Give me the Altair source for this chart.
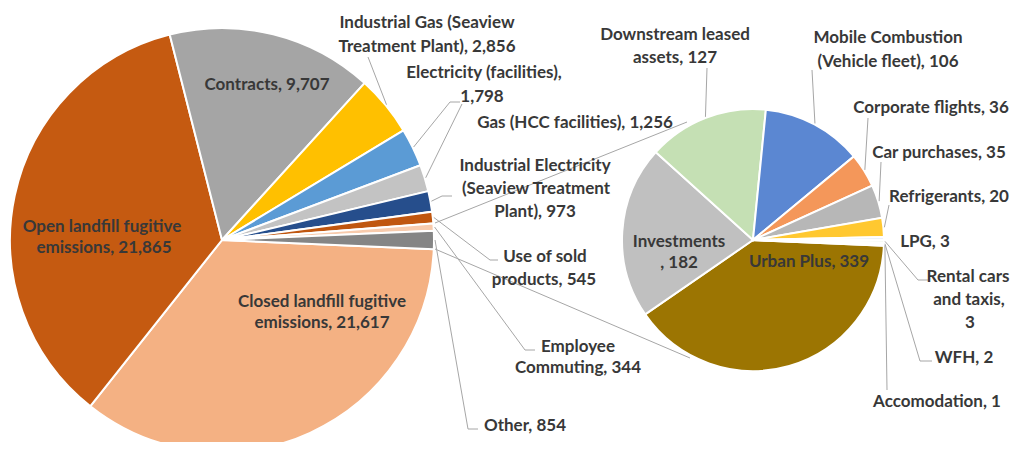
import altair as alt
import numpy as np
import pandas as pd

# ---------------- data ----------------
main_names = ["Closed landfill fugitive emissions", "Open landfill fugitive emissions", "Contracts",
              "Industrial Gas (Seaview Treatment Plant)", "Electricity (facilities)", "Gas (HCC facilities)",
              "Industrial Electricity (Seaview Treatment Plant)", "Use of sold products",
              "Employee Commuting", "Other"]
main_values = [21617, 21865, 9707, 2856, 1798, 1256, 973, 545, 344, 854]
main_colors = ["#F4B183", "#C55A11", "#A5A5A5", "#FFC000", "#5B9BD5", "#C3C3C3",
               "#264E8C", "#C0560F", "#F8CBAD", "#858585"]

sub_names = ["Urban Plus", "Investments", "Downstream leased assets", "Mobile Combustion (Vehicle fleet)",
             "Corporate flights", "Car purchases", "Refrigerants", "LPG", "Rental cars and taxis",
             "WFH", "Accomodation"]
sub_values = [339, 182, 127, 106, 36, 35, 20, 3, 3, 2, 1]
sub_colors = ["#9C7502", "#C0C0C0", "#C5E0B4", "#5B87D2", "#F4975A", "#B7B7B7", "#FFC830",
              "#E6EEF8", "#EEF5E8", "#E8ECF5", "#FBEFE6"]

# ---------------- layout (image pixel coords) ----------------
M = 8
MAIN_C, MAIN_R = (222, 240), 212
SUB_C, SUB_R = (753, 240), 131

# label lines per slice: (template, x, y)
main_label_layout = [
    [("Closed landfill fugitive", 322, 302), ("emissions, {v}", 322, 323)],
    [("Open landfill fugitive", 102, 227), ("emissions, {v}", 104, 248)],
    [("Contracts, {v}", 267, 85)],
    [("Industrial Gas (Seaview", 427, 23), ("Treatment Plant), {v}", 427, 47)],
    [("Electricity (facilities),", 484, 73), ("{v}", 482, 97)],
    [("Gas (HCC facilities), {v}", 575, 123)],
    [("Industrial Electricity", 535, 166), ("(Seaview Treatment", 536, 189), ("Plant), {v}", 535, 212)],
    [("Use of sold", 545, 257), ("products, {v}", 544, 280)],
    [("Employee", 578, 347), ("Commuting, {v}", 578, 368)],
    [("Other, {v}", 525, 426)],
]
sub_label_layout = [
    [("Urban Plus, {v}", 809, 262)],
    [("Investments", 679, 242), (", {v}", 679, 263)],
    [("Downstream leased", 675, 35), ("assets, {v}", 675, 58)],
    [("Mobile Combustion", 888, 38), ("(Vehicle fleet), {v}", 888, 62)],
    [("Corporate flights, {v}", 931, 108)],
    [("Car purchases, {v}", 939, 153)],
    [("Refrigerants, {v}", 949, 197)],
    [("LPG, {v}", 925, 242)],
    [("Rental cars", 968, 277), ("and taxis,", 969, 300), ("{v}", 970, 323)],
    [("WFH, {v}", 964, 358)],
    [("Accomodation, {v}", 937, 402)],
]
# leader line label-side points (slice side computed from the data)
main_leaders = {3: [(368, 57)], 4: [(460, 102), (450, 102)], 5: [(462, 104)],
                6: [(452, 196), (442, 196)], 7: [(498, 260), (490, 260)],
                8: [(535, 350), (525, 350)], 9: [(478, 429), (468, 429)]}
sub_leaders = {2: [(707, 68)], 3: [(812, 70)], 4: [(868, 118)], 5: [(881, 162)],
               6: [(889, 205)], 8: [(928, 280), (918, 280)], 9: [(932, 361), (920, 361)],
               10: [(887, 390)]}
series_lines = [[(687, 122), (435, 223)], [(690, 358), (435, 249)]]

main_total = sum(main_values)
A0 = np.pi / 2 + np.pi * main_values[-1] / main_total  # "Other" centred at 3 o'clock


def mid_angles(values, a0):
    v = np.array(values, float)
    cum = np.cumsum(v) - v / 2
    return a0 + 2 * np.pi * cum / v.sum()


def anchor(c, r, ang):
    return (c[0] + r * np.sin(ang), c[1] - r * np.cos(ang))


def pie_layer(names, values, colors, c, r, a0):
    df = pd.DataFrame({"name": names, "value": values, "color": colors, "idx": range(len(names))})
    return alt.Chart(df).mark_arc(outerRadius=r, stroke="white", strokeWidth=2).encode(
        theta=alt.Theta("value:Q", stack=True, scale=alt.Scale(range=[a0, a0 + 2 * np.pi])),
        order=alt.Order("idx:Q"),
        color=alt.Color("color:N", scale=None),
        x=alt.value(c[0] - M), y=alt.value(c[1] - M),
    )


text_rows = []
for layout, vals in ((main_label_layout, main_values), (sub_label_layout, sub_values)):
    for lines, v in zip(layout, vals):
        for tmpl, x, y in lines:
            text_rows.append({"text": tmpl.format(v=f"{v:,}"), "x": x - M, "y": y - M})
text_df = pd.DataFrame(text_rows)

seg_rows = []


def add_poly(pts):
    for (xa, ya), (xb, yb) in zip(pts[:-1], pts[1:]):
        seg_rows.append({"x": xa - M, "y": ya - M, "x2": xb - M, "y2": yb - M})


for leaders, vals, c, r in ((main_leaders, main_values, MAIN_C, MAIN_R),
                            (sub_leaders, sub_values, SUB_C, SUB_R)):
    mids = mid_angles(vals, A0)
    for i, pts in leaders.items():
        add_poly(list(pts) + [anchor(c, r + 1, mids[i])])
for pts in series_lines:
    add_poly(pts)
seg_df = pd.DataFrame(seg_rows)

lines = alt.Chart(seg_df).mark_rule(color="#A6A6A6", strokeWidth=1).encode(
    x=alt.X("x:Q", scale=None, axis=None), y=alt.Y("y:Q", scale=None, axis=None),
    x2="x2:Q", y2="y2:Q")

texts = alt.Chart(text_df).mark_text(font="Lato", fontWeight="bold", fontSize=17,
                                     color="#383838", align="center", baseline="middle").encode(
    x=alt.X("x:Q", scale=None, axis=None), y=alt.Y("y:Q", scale=None, axis=None), text="text:N")

main_pie = pie_layer(main_names, main_values, main_colors, MAIN_C, MAIN_R, A0)
sub_pie = pie_layer(sub_names, sub_values, sub_colors, SUB_C, SUB_R, A0)

chart = alt.layer(main_pie, sub_pie, lines, texts).resolve_scale(
    theta="independent", color="independent"
).properties(width=1008, height=434, autosize="none", padding=0).configure_view(strokeWidth=0)

chart.save("out.html", embed_options={"renderer": "svg", "actions": False})
